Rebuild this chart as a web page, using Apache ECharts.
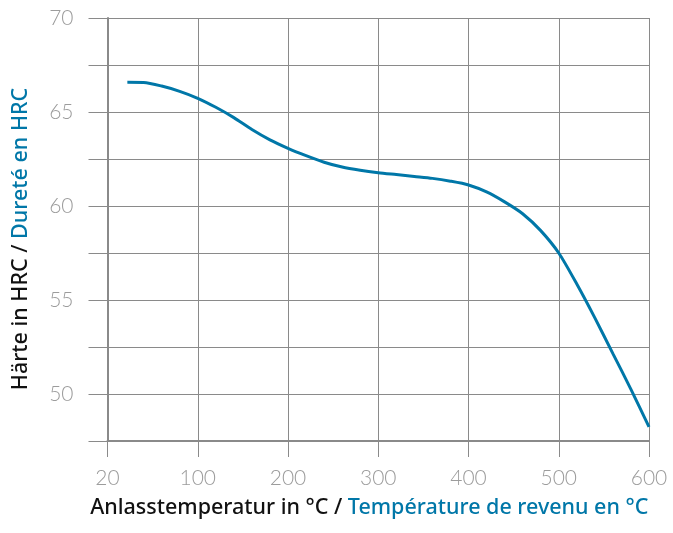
<!DOCTYPE html>
<html>
<head>
<meta charset="utf-8">
<script src="https://cdn.jsdelivr.net/npm/echarts@6/dist/echarts.min.js"></script>
<style>
  html, body { margin: 0; padding: 0; background: #fff; }
  #chart { width: 673px; height: 533px; }
</style>
</head>
<body>
<div id="chart"></div>
<script>
// Anlasstemperatur (°C) / Härte (HRC)
var temperatures = [22, 40, 60, 80, 100, 120, 140, 160, 180, 200, 220, 240, 260, 280, 300, 320, 340, 360, 380, 400, 420, 440, 460, 480, 500, 520, 540, 560, 580, 600];
var hardness = [66.58, 66.57, 66.38, 66.1, 65.73, 65.25, 64.7, 64.07, 63.52, 63.07, 62.68, 62.33, 62.07, 61.9, 61.77, 61.67, 61.57, 61.47, 61.32, 61.12, 60.75, 60.22, 59.59, 58.69, 57.5, 55.85, 54.05, 52.15, 50.25, 48.25];
var xTickLabels = ['20', '100', '200', '300', '400', '500', '600'];

var gridColor = '#8a8a8a';
var blue = '#0077a8';

var chart = echarts.init(document.getElementById('chart'));
var option = {
  animation: false,
  grid: {
    left: 107.5,
    right: 24,
    top: 18,
    bottom: 92,
    containLabel: false,
    outerBoundsMode: 'none'
  },
  xAxis: {
    type: 'value',
    min: 0,
    max: 600,
    interval: 100,
    name: '{a|Anlasstemperatur in °C / }{b|Température de revenu en °C}',
    nameLocation: 'middle',
    nameGap: 56,
    nameTextStyle: {
      padding: [0, 18, 0, 0],
      rich: {
        a: { color: '#111', fontSize: 21.5, fontWeight: 500, fontFamily: 'Noto Sans' },
        b: { color: blue, fontSize: 21.5, fontWeight: 500, fontFamily: 'Noto Sans' }
      }
    },
    axisLine: { show: true, lineStyle: { color: gridColor, width: 2 } },
    axisTick: { show: true, length: 16, lineStyle: { color: gridColor, width: 1 } },
    axisLabel: {
      margin: 27,
      color: '#9c9c9c',
      fontSize: 21,
      fontFamily: 'Lato',
      fontWeight: 300,
      formatter: function (v) { return xTickLabels[Math.round(v / 100)]; }
    },
    splitLine: { show: true, lineStyle: { color: gridColor, width: 1 } }
  },
  yAxis: {
    type: 'value',
    min: 47.5,
    max: 70,
    interval: 2.5,
    name: '{a|Härte in HRC / }{b|Dureté en HRC}',
    nameLocation: 'middle',
    nameGap: 76,
    nameTextStyle: {
      padding: [0, 19, 0, 0],
      rich: {
        a: { color: '#111', fontSize: 21.5, fontWeight: 500, fontFamily: 'Noto Sans' },
        b: { color: blue, fontSize: 21.5, fontWeight: 500, fontFamily: 'Noto Sans' }
      }
    },
    axisLine: { show: true, lineStyle: { color: gridColor, width: 2 } },
    axisTick: { show: true, length: 19, lineStyle: { color: gridColor, width: 1 } },
    axisLabel: {
      margin: 34,
      color: '#9c9c9c',
      fontSize: 21,
      fontFamily: 'Lato',
      fontWeight: 300,
      formatter: function (v) { return v % 5 === 0 ? String(v) : ''; }
    },
    splitLine: { show: true, lineStyle: { color: gridColor, width: 1 } }
  },
  series: [{
    type: 'line',
    data: temperatures.map(function (t, i) { return [t, hardness[i]]; }),
    smooth: 0.25,
    symbol: 'none',
    lineStyle: { color: blue, width: 3 }
  }]
};
chart.setOption(option);
</script>
</body>
</html>
